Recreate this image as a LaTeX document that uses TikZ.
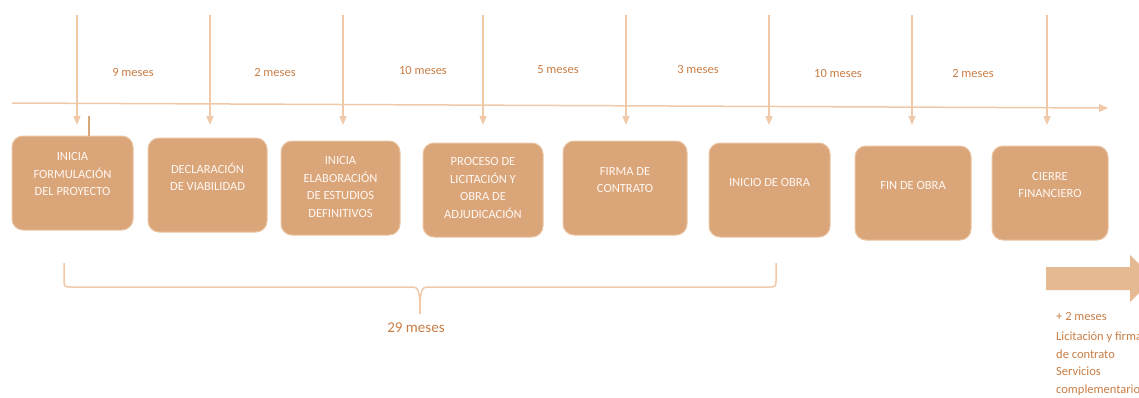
\documentclass[tikz,border=0pt]{standalone}
\usepackage{fontspec}
\setmainfont{Carlito}
\usetikzlibrary{arrows.meta}
\definecolor{boxfill}{HTML}{DBA57A}
\definecolor{boxedge}{HTML}{E9C4A2}
\definecolor{lbl}{HTML}{C97D45}
\definecolor{arr}{HTML}{EFC9A8}
\definecolor{bigarr}{HTML}{E5B991}
\definecolor{boxtxt}{HTML}{FFF8F2}
\begin{document}
\begin{tikzpicture}[x=1pt,y=-1pt,
  stagebox/.style={draw=boxedge,line width=1pt,fill=boxfill,rounded corners=11pt,minimum width=#1,minimum height=94pt,inner sep=0pt},
  stagetext/.style={text=boxtxt,font=\fontsize{12.5}{17.5}\selectfont,align=center,inner sep=0pt},
  meslbl/.style={text=lbl,font=\fontsize{12.5}{15}\selectfont,inner sep=0pt},
  down/.style={draw=arr,line width=1.3pt,-{Triangle[width=7pt,length=9pt]}},
  ]
\useasboundingbox (0,0) rectangle (1139,397);
% timeline
\coordinate (tl0) at (12,103);
\coordinate (tl1) at (1108,108);
\draw[arr,line width=1.5pt,-{Triangle[width=8pt,length=9pt]}] (tl0) -- (tl1);
% boxes
\node[stagebox=121pt] (b1) at (72.5,183) {};
\node[stagebox=119pt] (b2) at (207.5,185) {};
\node[stagebox=119pt] (b3) at (340.5,188) {};
\node[stagebox=120pt] (b4) at (483,190) {};
\node[stagebox=124pt] (b5) at (625,188) {};
\node[stagebox=121pt] (b6) at (769.5,190) {};
\node[stagebox=116pt] (b7) at (913,193) {};
\node[stagebox=116pt] (b8) at (1050,193) {};
\node[stagetext] (x1) at ([yshift=9pt]b1.center) {INICIA\\FORMULACIÓN\\DEL PROYECTO};
\node[stagetext] (x2) at ([yshift=8pt]b2.center) {DECLARACIÓN\\DE VIABILIDAD};
\node[stagetext] (x3) at ([yshift=1pt]b3.center) {INICIA\\ELABORACIÓN\\DE ESTUDIOS\\DEFINITIVOS};
\node[stagetext] (x4) at ([yshift=2pt]b4.center) {PROCESO DE\\LICITACIÓN Y\\OBRA DE\\ADJUDICACIÓN};
\node[stagetext] (x5) at ([yshift=8pt]b5.center) {FIRMA DE\\CONTRATO};
\node[stagetext] (x6) at ([yshift=8pt]b6.center) {INICIO DE OBRA};
\node[stagetext] (x7) at ([yshift=8pt]b7.center) {FIN DE OBRA};
\node[stagetext] (x8) at ([yshift=8pt]b8.center) {CIERRE\\FINANCIERO};
% small tick on first box
\coordinate (tk) at (89,116);
\draw[boxfill,line width=1.5pt] (tk) -- (tk |- b1.north);
% vertical arrows
\foreach \i/\x in {1/77,2/210,3/343,4/483,5/626,6/769,7/912,8/1047}{
  \coordinate (t\i) at (\x,15);
  \coordinate (e\i) at (\x,125);
  \draw[down] (t\i) -- (e\i);
}
% duration labels
\node[meslbl] (m1) at (133,72) {9 meses};
\node[meslbl] (m2) at (275,72) {2 meses};
\node[meslbl] (m3) at (423,70) {10 meses};
\node[meslbl] (m4) at (558,70) {5 meses};
\node[meslbl] (m5) at (698,69) {3 meses};
\node[meslbl] (m6) at (838,73) {10 meses};
\node[meslbl] (m7) at (973,73) {2 meses};
% brace
\coordinate (bl) at (64,263);
\coordinate (br) at (776,263);
\coordinate (bm) at (420,314);
\draw[arr,line width=1.5pt] (bl) -- (64,281) .. controls (64,286) and (65,287) .. (70,287)
  -- (412,287) .. controls (418,287) and (420,289) .. (bm);
\draw[arr,line width=1.5pt] (br) -- (776,281) .. controls (776,286) and (775,287) .. (770,287)
  -- (428,287) .. controls (422,287) and (420,289) .. (bm);
\node[text=lbl,font=\fontsize{15}{18}\selectfont,inner sep=0pt] (tot) at (416,328) {29 meses};
% big arrow
\fill[bigarr] (1046,267) -- (1130,267) -- (1130,255) -- (1154,278.5) -- (1130,302) -- (1130,290) -- (1046,290) -- cycle;
\node[meslbl,anchor=west] (p2) at (1056,316) {+ 2 meses};
\node[text=lbl,font=\fontsize{12.5}{17.5}\selectfont,align=left,anchor=north west,inner sep=0pt] (lic) at (1056,332) {Licitación y firma\\de contrato\\Servicios\\complementarios};
\end{tikzpicture}
\end{document}
